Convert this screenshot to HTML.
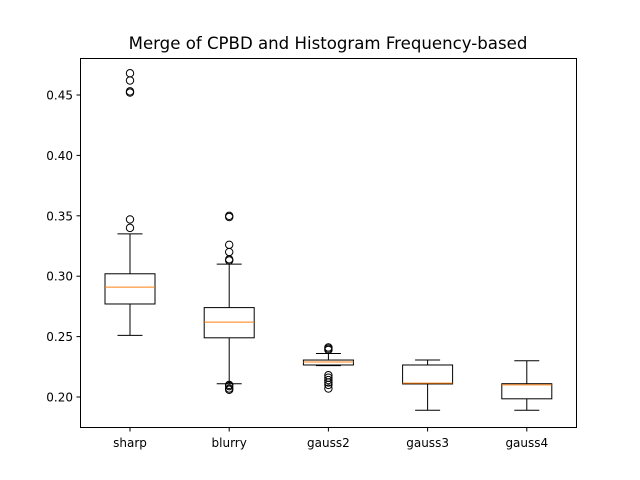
<!DOCTYPE html>
<html><head><meta charset="utf-8"><style>body{margin:0;background:#fff}svg{display:block;font-family:"DejaVu Sans","Liberation Sans",sans-serif}</style></head>
<body>
<svg id="chart" width="640" height="480" xmlns="http://www.w3.org/2000/svg">
<rect width="640" height="480" fill="#fff"/>
<text x="328" y="49" text-anchor="middle" font-size="16.6">Merge of CPBD and Histogram Frequency-based</text>
<g id="plot"></g>
<rect x="80.5" y="58.5" width="496" height="369" fill="none" stroke="#000" stroke-width="1"/>
</svg>
<script>
const categories = ["sharp","blurry","gauss2","gauss3","gauss4"];
const q1 = [0.277,0.249,0.2265,0.2108,0.1985];
const q3 = [0.302,0.274,0.2306,0.2265,0.211];
const medians = [0.291,0.262,0.229,0.2115,0.210];
const whiskLow = [0.251,0.211,0.226,0.189,0.189];
const whiskHigh = [0.335,0.310,0.236,0.2306,0.230];
const outliers = [
 [0.340,0.347,0.452,0.453,0.462,0.468],
 [0.313,0.314,0.320,0.326,0.349,0.350,0.210,0.209,0.207,0.206],
 [0.239,0.240,0.241,0.218,0.216,0.214,0.212,0.210,0.207],
 [],[]
];
const yTicks = [0.20,0.25,0.30,0.35,0.40,0.45];
const yTickLabels = ["0.20","0.25","0.30","0.35","0.40","0.45"];
const NS="http://www.w3.org/2000/svg";
const g=document.getElementById('plot');
const y=v=>397-(v-0.2)*1208;
const x=i=>130+i*99.2;
function mk(t,a,p){const e=document.createElementNS(NS,t);for(const k in a)e.setAttribute(k,a[k]);(p||g).appendChild(e);return e;}
yTicks.forEach((t,i)=>{
 const l=mk('line',{x1:76.5,x2:80.5,y1:y(t),y2:y(t),stroke:'#000'});
 
 
 const tx=mk('text',{x:73,y:y(t)+4.5,'text-anchor':'end','font-size':12});
 tx.textContent=yTickLabels[i];
 
 
});
categories.forEach((c,i)=>{
 const cx=x(i);
 const grp=mk('g',{});
 
 
 mk('line',{x1:cx,x2:cx,y1:y(q1[i]),y2:y(whiskLow[i]),stroke:'#000'},grp);
 mk('line',{x1:cx,x2:cx,y1:y(q3[i]),y2:y(whiskHigh[i]),stroke:'#000'},grp);
 mk('line',{x1:cx-12.5,x2:cx+12.5,y1:y(whiskLow[i]),y2:y(whiskLow[i]),stroke:'#000'},grp);
 mk('line',{x1:cx-12.5,x2:cx+12.5,y1:y(whiskHigh[i]),y2:y(whiskHigh[i]),stroke:'#000'},grp);
 mk('rect',{x:cx-25,y:y(q3[i]),width:50,height:y(q1[i])-y(q3[i]),fill:'none',stroke:'#000'},grp);
 mk('line',{x1:cx-25,x2:cx+25,y1:y(medians[i]),y2:y(medians[i]),stroke:'#ff7f0e'},grp);
 outliers[i].forEach(o=>{
  const ci=mk('circle',{cx:cx,cy:y(o),r:3.7,fill:'none',stroke:'#000'},grp);
  
  
 });
 const tk=mk('line',{x1:cx,x2:cx,y1:427.5,y2:431.5,stroke:'#000'});
 
 
 const tx=mk('text',{x:cx,y:447,'text-anchor':'middle','font-size':12});
 tx.textContent=c;
 
 
});
</script>
</body></html>
